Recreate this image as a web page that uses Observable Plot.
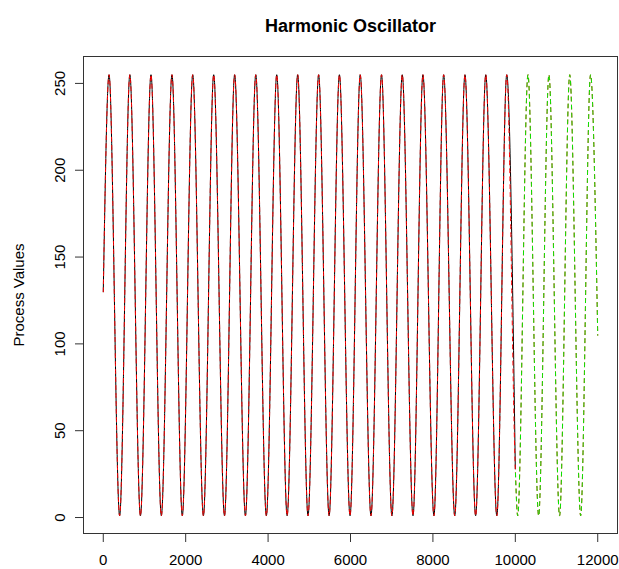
<!DOCTYPE html>
<html>
<head>
<meta charset="utf-8">
<script src="https://cdn.jsdelivr.net/npm/d3@7"></script>
<script src="https://cdn.jsdelivr.net/npm/@observablehq/plot@0.6"></script>
<style>
  body { margin: 0; background: #fff; }
  #chart svg { display: block; }
</style>
</head>
<body>
<div id="chart"></div>
<script>
// Key points: start, alternating peaks / troughs, split point, end
const keyTimes = [0, 140, 397, 645, 902, 1158, 1409, 1667, 1918, 2171, 2430, 2680, 2942, 3188, 3450, 3701,
  3958, 4210, 4462, 4718, 4969, 5227, 5481, 5731, 5989, 6236, 6497, 6753, 7005, 7256, 7517, 7758,
  8025, 8261, 8530, 8778, 9037, 9283, 9551, 9792, 10000, 10058, 10307, 10566, 10816, 11074, 11321,
  11586, 11826, 12000];
const keyValues = [130, 255, 1, 255, 1, 255, 1, 255, 1, 255, 1, 255, 1, 255, 1, 255,
  1, 255, 1, 255, 1, 255, 1, 255, 1, 255, 1, 255, 1, 255, 1, 255,
  1, 255, 1, 255, 1, 255, 1, 255, 28, 1, 255, 1, 255, 1, 255,
  1, 255, 105];
const splitTime = 10000;
const xTicks = [0, 2000, 4000, 6000, 8000, 10000, 12000];
const yTicks = [0, 50, 100, 150, 200, 250];
const titleText = "Harmonic Oscillator";
const yLabelText = "Process Values";

const points = keyTimes.map((t, i) => ({t, v: keyValues[i]}));
const observed = points.filter(d => d.t <= splitTime);
const forecast = points.filter(d => d.t >= splitTime);

const chart = Plot.plot({
  width: 619,
  height: 569,
  marginLeft: 83,
  marginRight: 2,
  marginTop: 56,
  marginBottom: 36,
  x: {domain: [-480, 12480]},
  y: {domain: [-9.2, 265.5]},
  style: {fontFamily: "'Liberation Sans', Arial, sans-serif", fontSize: "15px", background: "#fff", color: "#000"},
  marks: [
    Plot.line(observed, {x: "t", y: "v", stroke: "#000", strokeWidth: 1, curve: "monotone-x"}),
    Plot.line(points, {x: "t", y: "v", stroke: "#ff0000", strokeWidth: 1, strokeDasharray: "4,4", curve: "monotone-x"}),
    Plot.line(forecast, {x: "t", y: "v", stroke: "#00ee00", strokeWidth: 1, strokeDasharray: "4,4", strokeDashoffset: 4, curve: "monotone-x"}),
    Plot.frame({stroke: "#333"}),
    Plot.axisX({ticks: xTicks, tickSize: 9, tickPadding: 12, fontSize: 15, label: null, tickFormat: d => String(d), stroke: "#333"}),
    Plot.axisY({ticks: yTicks, tickSize: 8, tickPadding: 11, tickRotate: -90, fontSize: 15, label: null, tickFormat: d => String(d), stroke: "#333"}),
    Plot.text([titleText], {frameAnchor: "top", dy: -37, fontWeight: "bold", fontSize: 18, fill: "#000"}),
    Plot.text([yLabelText], {frameAnchor: "left", textAnchor: "middle", dx: -64, rotate: -90, fontSize: 15, fill: "#000"})
  ]
});
document.getElementById("chart").appendChild(chart);
</script>
</body>
</html>
